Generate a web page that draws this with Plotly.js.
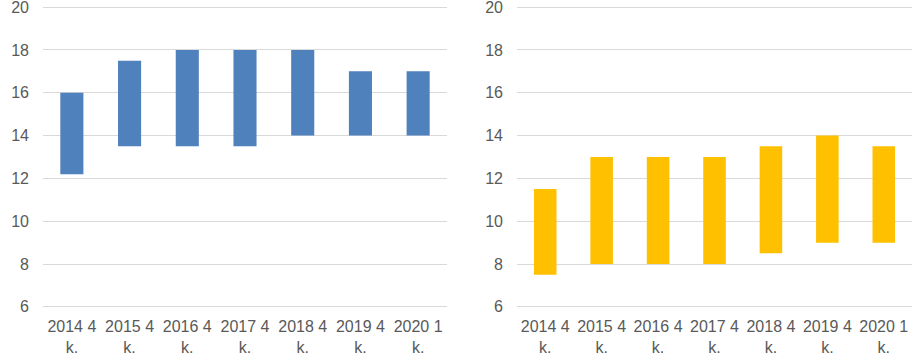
<!DOCTYPE html>
<html><head><meta charset="utf-8">
<script src="https://cdn.plot.ly/plotly-3.0.1.min.js"></script>
<style>html,body{margin:0;padding:0;background:#fff}#c{width:918px;height:361px}</style>
</head><body><div id="c"></div>
<script>
var categories = ["2014 4<br>k.", "2015 4<br>k.", "2016 4<br>k.", "2017 4<br>k.", "2018 4<br>k.", "2019 4<br>k.", "2020 1<br>k."];
var leftLow  = [12.2, 13.5, 13.5, 13.5, 14, 14, 14];
var leftHigh = [16, 17.5, 18, 18, 18, 17, 17];
var rightLow  = [7.5, 8, 8, 8, 8.5, 9, 9];
var rightHigh = [11.5, 13, 13, 13, 13.5, 14, 13.5];
var yTicks = [6, 8, 10, 12, 14, 16, 18, 20];

function diff(h, l){ return h.map(function(v,i){ return v - l[i]; }); }

var traces = [
  {type:'bar', x:categories, y:diff(leftHigh,leftLow), base:leftLow, marker:{color:'#4F81BD'}, xaxis:'x', yaxis:'y', hoverinfo:'none'},
  {type:'bar', x:categories, y:diff(rightHigh,rightLow), base:rightLow, marker:{color:'#FFC000'}, xaxis:'x2', yaxis:'y2', hoverinfo:'none'}
];
var font = {family:'Liberation Sans, Arial, sans-serif', size:16, color:'#595959'};
function yax(anchor){ return {anchor:anchor, range:[5.9,20.1], tickvals:yTicks, showgrid:true, gridcolor:'#D9D9D9', gridwidth:1, zeroline:false, showline:false, ticks:'', ticklabelstandoff:13, ticklabeloverflow:'allow', tickfont:font, automargin:false, fixedrange:true}; }
function xax(anchor, dom){ return {anchor:anchor, domain:dom, showgrid:false, zeroline:false, showline:false, ticks:'', ticklabelstandoff:6, ticklabeloverflow:'allow', tickfont:font, tickangle:0, automargin:false, fixedrange:true}; }
var layout = {
  width:918, height:361, margin:{l:0, r:0, t:5, b:52, autoexpand:false},
  showlegend:false, bargap:0.6, paper_bgcolor:'#fff', plot_bgcolor:'#fff',
  xaxis: xax('y', [43/918, 447/918]),
  yaxis: yax('x'),
  xaxis2: xax('y2', [517/918, 912/918]),
  yaxis2: yax('x2'),
  font: font
};
Plotly.newPlot('c', traces, layout, {displayModeBar:false, staticPlot:true});
</script></body></html>
